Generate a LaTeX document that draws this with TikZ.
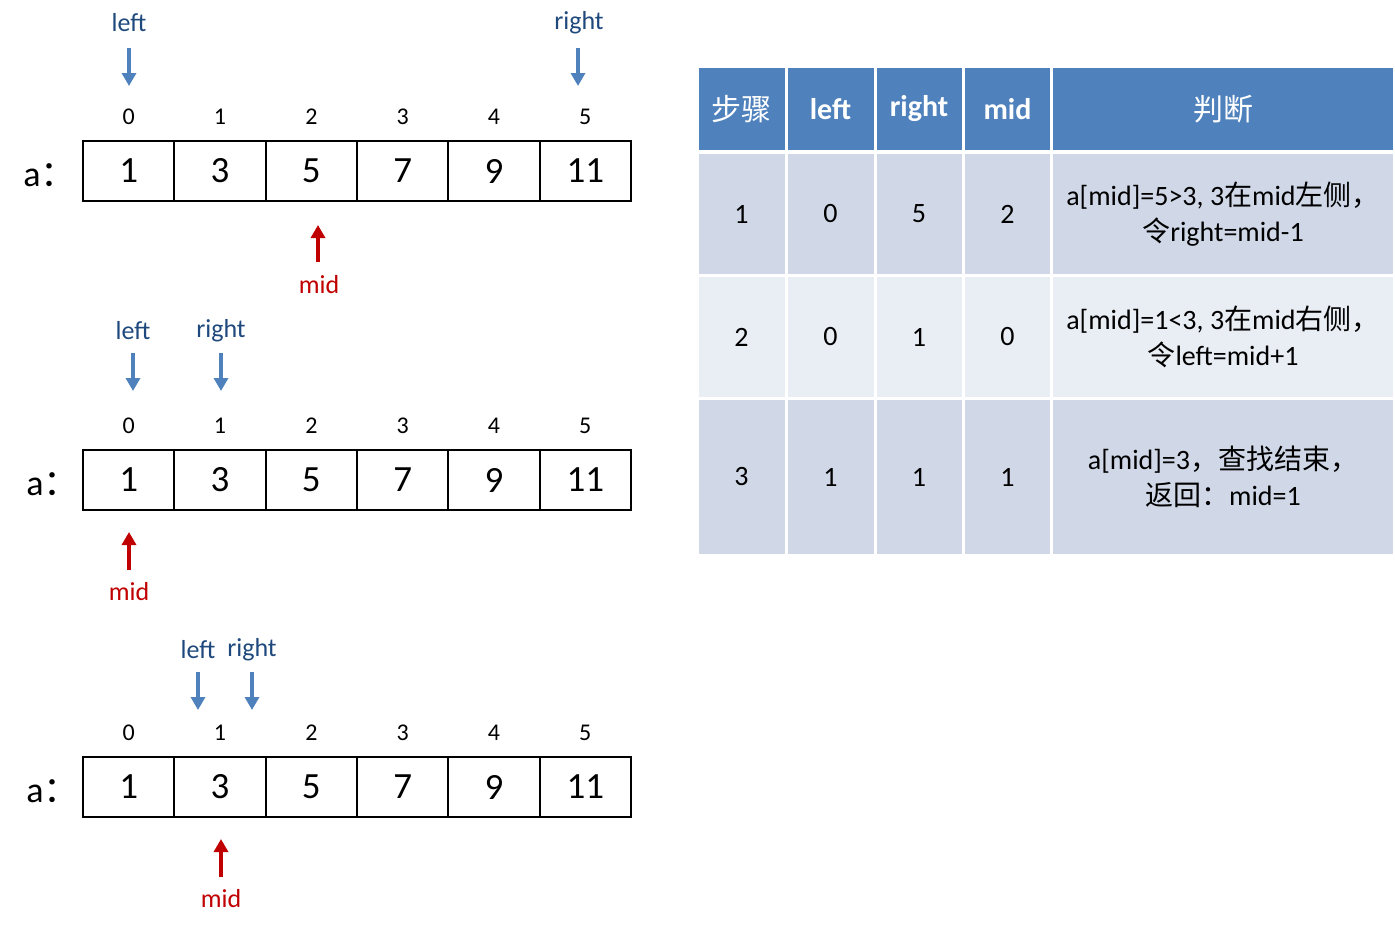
\documentclass[tikz,border=0pt]{standalone}
\usepackage{fontspec}
\setmainfont{Carlito}
\newfontfamily\cjk{Noto Sans CJK SC}
\usetikzlibrary{arrows.meta}
\definecolor{hdr}{HTML}{4F81BD}
\definecolor{rowA}{HTML}{D0D8E8}
\definecolor{rowB}{HTML}{E9EDF4}
\definecolor{arrblue}{HTML}{4F81BD}
\definecolor{lblblue}{HTML}{1F497D}
\definecolor{arrred}{HTML}{C00000}
\begin{document}
\begin{tikzpicture}[x=1pt,y=-1pt,
  cellbox/.style={draw=black,line width=2pt,minimum width=91.33pt,minimum height=60pt,inner sep=0pt,font=\fontsize{37}{40}\selectfont},
  idx/.style={font=\fontsize{24}{28}\selectfont,inner sep=0pt},
  alabel/.style={font=\fontsize{36}{40}\selectfont,inner sep=0pt},
  ptrlabel/.style={font=\fontsize{26}{30}\selectfont,text=lblblue,inner sep=0pt},
  midlabel/.style={font=\fontsize{26}{30}\selectfont,text=arrred,inner sep=0pt},
  downarrow/.style={draw=arrblue,line width=4.5pt,-{Triangle[length=13pt,width=14pt]}},
  uparrow/.style={draw=arrred,line width=4.5pt,-{Triangle[length=13pt,width=14pt]}},
  hcell/.style={fill=hdr,text=white,inner sep=0pt,font=\fontsize{30}{34}\selectfont\bfseries},
  bcell/.style={inner sep=0pt,font=\fontsize{28}{36}\selectfont,align=center}
]
\useasboundingbox (0,0) rectangle (1395,929);
% arrays
\foreach \r/\yc/\ax in {1/171/50,2/480/53,3/787/53}{
  \node[alabel] (alab\r) at (\ax,\yc+4) {a{\cjk ：}};
  \foreach \i/\v in {0/1,1/3,2/5,3/7,4/9,5/11}{
    \node[cellbox] (c\r\i) at ({128.67+91.33*\i},\yc) {\v};
    \node[idx] (i\r\i) at ({128.67+91.33*\i},\yc-54) {\i};
  }
}
% array 1 pointers
\node[ptrlabel] (l1) at (129,23) {left};
\coordinate (l1s) at (129,48); \coordinate (l1e) at (129,86);
\draw[downarrow] (l1s) -- (l1e);
\node[ptrlabel] (r1) at (579,23) {right};
\coordinate (r1s) at (578,48); \coordinate (r1e) at (578,86);
\draw[downarrow] (r1s) -- (r1e);
\coordinate (m1s) at (318,262); \coordinate (m1e) at (318,225);
\draw[uparrow] (m1s) -- (m1e);
\node[midlabel] (m1) at (319,285) {mid};
% array 2 pointers
\node[ptrlabel] (l2) at (133,331) {left};
\coordinate (l2s) at (133,353); \coordinate (l2e) at (133,391);
\draw[downarrow] (l2s) -- (l2e);
\node[ptrlabel] (r2) at (221,331) {right};
\coordinate (r2s) at (221,353); \coordinate (r2e) at (221,391);
\draw[downarrow] (r2s) -- (r2e);
\coordinate (m2s) at (129,570); \coordinate (m2e) at (129,532);
\draw[uparrow] (m2s) -- (m2e);
\node[midlabel] (m2) at (129,592) {mid};
% array 3 pointers
\node[ptrlabel] (l3) at (198,650) {left};
\coordinate (l3s) at (198,672); \coordinate (l3e) at (198,710);
\draw[downarrow] (l3s) -- (l3e);
\node[ptrlabel] (r3) at (252,650) {right};
\coordinate (r3s) at (252,672); \coordinate (r3e) at (252,710);
\draw[downarrow] (r3s) -- (r3e);
\coordinate (m3s) at (221,877); \coordinate (m3e) at (221,839);
\draw[uparrow] (m3s) -- (m3e);
\node[midlabel] (m3) at (221,899) {mid};
% table header
\node[hcell,minimum width=86pt,minimum height=82pt] (h0) at (741.5,109) {\cjk\mdseries 步骤};
\node[hcell,minimum width=86pt,minimum height=82pt] (h1) at (830.5,109) {left};
\node[hcell,minimum width=85pt,minimum height=82pt] (h2) at (919,109) {right};
\node[hcell,minimum width=85pt,minimum height=82pt] (h3) at (1007.5,109) {mid};
\node[hcell,minimum width=340pt,minimum height=82pt] (h4) at (1223,109) {\cjk\mdseries 判断};
% rows
\foreach \r/\yc/\h/\col/\a/\b/\c/\d in {1/214/120/rowA/1/0/5/2, 2/337/120/rowB/2/0/1/0, 3/477/154/rowA/3/1/1/1}{
  \node[bcell,fill=\col,minimum width=86pt,minimum height=\h pt] (t\r0) at (741.5,\yc) {\a};
  \node[bcell,fill=\col,minimum width=86pt,minimum height=\h pt] (t\r1) at (830.5,\yc) {\b};
  \node[bcell,fill=\col,minimum width=85pt,minimum height=\h pt] (t\r2) at (919,\yc) {\c};
  \node[bcell,fill=\col,minimum width=85pt,minimum height=\h pt] (t\r3) at (1007.5,\yc) {\d};
}
\node[bcell,fill=rowA,minimum width=340pt,minimum height=120pt] (t14) at (1223,214)
  {a[mid]=5>3, 3{\cjk 在}mid{\cjk 左侧，}\\{\cjk 令}right=mid-1};
\node[bcell,fill=rowB,minimum width=340pt,minimum height=120pt] (t24) at (1223,337)
  {a[mid]=1<3, 3{\cjk 在}mid{\cjk 右侧，}\\{\cjk 令}left=mid+1};
\node[bcell,fill=rowA,minimum width=340pt,minimum height=154pt] (t34) at (1223,477)
  {a[mid]=3{\cjk ，查找结束，}\\{\cjk 返回：}mid=1};
\end{tikzpicture}
\end{document}
